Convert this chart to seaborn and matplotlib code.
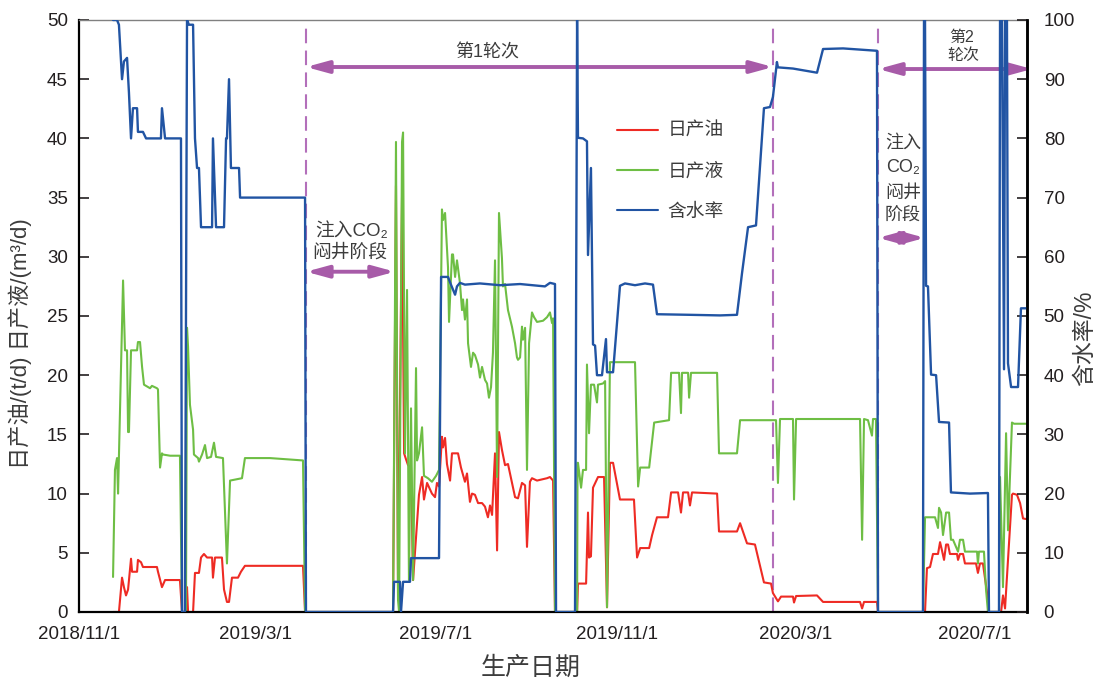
import matplotlib
matplotlib.use("Agg")
import matplotlib.dates as mdates
import matplotlib.pyplot as plt
import numpy as np
import pandas as pd
import seaborn as sns
from matplotlib.lines import Line2D

START = pd.Timestamp("2018-11-01")

# days since 2018-11-01
oil_days = [
    23.1, 27.1, 29.2, 30.5, 31.9, 33.3, 35.3, 36.0, 39.4, 40.0,
    42.1, 43.4, 52.9, 53.6, 56.3, 58.4, 68.5, 69.9, 72.6, 73.3,
    74.0, 77.4, 78.7, 81.4, 82.8, 84.8, 86.9, 90.3, 90.9, 92.3,
    97.0, 98.4, 100.4, 101.8, 103.8, 107.9, 109.9, 112.6, 152.0, 153.4,
    213.1, 215.1, 216.5, 219.2, 220.6, 221.9, 223.3, 225.3, 226.7, 230.7,
    232.8, 234.1, 236.2, 239.5, 241.6, 242.9, 244.3, 246.3, 247.0, 248.4,
    249.7, 251.8, 253.1, 257.2, 259.2, 261.9, 263.3, 265.3, 266.7, 268.7,
    270.8, 273.5, 275.5, 277.5, 278.9, 280.3, 282.3, 283.7, 285.0, 287.0,
    289.1, 291.1, 293.8, 295.9, 297.9, 300.6, 302.7, 304.0, 306.0, 307.4,
    310.8, 317.6, 319.6, 321.7, 323.0,
    338.0, 338.6, 344.1, 345.4, 346.1, 347.4, 348.8, 352.2, 356.3, 358.3,
    360.3, 362.4, 367.1, 376.6, 378.7, 380.8, 386.9, 388.9, 392.2, 399.7,
    401.8, 406.5, 408.5, 409.9, 413.3, 414.6, 416.0, 433.0, 434.3, 446.5,
    448.6, 453.3, 458.7, 464.8, 469.6, 470.9, 474.3, 476.4, 484.5, 485.2,
    486.6, 500.8, 504.9, 530.0, 531.4, 532.7, 541.5, 542.2,
    574.1, 575.4, 577.5, 579.5, 582.9, 584.3, 585.6, 587.0, 588.4, 589.7,
    591.0, 595.8, 596.5, 597.8, 599.9, 601.2, 608.7, 610.0, 611.4, 613.4,
    616.2, 617.5, 625.7, 627.0, 628.4, 633.1, 633.8, 636.5, 638.6, 640.6,
    645.3,
]
oil_vals = [
    0, 0, 2.9, 2.1, 1.4, 1.9, 4.5, 3.4, 3.4, 4.4,
    4.2, 3.8, 3.8, 3.4, 2.1, 2.7, 2.7, 0, 0, 2.1,
    0, 0, 3.3, 3.3, 4.6, 4.9, 4.6, 4.6, 2.9, 4.6,
    4.6, 1.9, 0.85, 0.85, 2.9, 2.9, 3.4, 3.9, 3.9, 0,
    0, 36, 1, 35, 13.4, 12.9, 12.4, 12.2, 2.7, 9.9,
    11.4, 9.5, 10.9, 10.0, 9.7, 10.9, 10.6, 14.8, 13.9, 14.7,
    12.5, 11.1, 13.4, 13.4, 12.2, 11.0, 11.7, 9.3, 10.0, 9.9,
    9.2, 9.2, 8.9, 8.0, 9.0, 8.2, 13.4, 5.2, 15.2, 13.7,
    12.4, 12.5, 10.9, 9.7, 9.6, 10.9, 10.7, 5.5, 11.0, 11.3,
    11.1, 11.3, 11.4, 11.1, 0,
    0, 2.4, 2.4, 8.4, 4.6, 4.7, 10.5, 11.4, 11.4, 0.4,
    12.6, 12.6, 9.5, 9.5, 4.6, 5.4, 5.4, 6.5, 8.0, 8.0,
    10.1, 10.1, 8.4, 10.1, 10.1, 9.0, 10.1, 10.0, 6.8, 6.8,
    7.5, 5.8, 5.7, 2.5, 2.4, 1.6, 0.9, 1.3, 1.3, 0.8,
    1.35, 1.4, 0.85, 0.85, 0.3, 0.85, 0.85, 0,
    0, 3.7, 3.8, 4.9, 4.9, 5.9, 5.2, 4.4, 5.7, 5.7,
    4.9, 4.9, 4.4, 4.9, 4.9, 4.1, 4.1, 3.3, 4.1, 4.1,
    1.6, 0, 0, 1.4, 0.3, 9.9, 10.0, 9.9, 9.2, 7.9,
    7.8,
]

liquid_days = [
    23.1, 24.4, 25.8, 26.5, 29.9, 31.2, 32.6, 33.3, 33.9, 35.3,
    39.4, 40.0, 41.4, 42.8, 44.1, 48.2, 49.5, 52.9, 53.6, 55.0,
    56.3, 57.0, 61.8, 68.5, 69.9, 72.6, 73.3, 74.0, 75.3, 77.4,
    78.0, 80.8, 81.4, 83.5, 85.5, 86.9, 89.6, 91.6, 93.0, 97.7,
    100.4, 102.5, 110.6, 112.6, 129.6, 152.0, 153.4,
    213.1, 215.1, 216.5, 217.2, 219.2, 219.9, 221.2, 222.6, 223.9, 225.3,
    226.7, 228.7, 229.4, 230.7, 232.8, 234.1, 236.8, 239.5, 242.3, 244.3,
    246.3, 247.0, 248.4, 249.7, 250.4, 251.1, 253.1, 253.8, 255.2, 256.5,
    258.5, 259.9, 260.6, 261.9, 263.3, 264.0, 266.0, 267.4, 268.7, 270.8,
    272.1, 273.5, 275.5, 276.9, 278.2, 279.6, 280.9, 282.3, 283.7, 285.0,
    287.0, 287.7, 289.1, 291.1, 293.8, 295.9, 297.2, 297.9, 299.3, 300.6,
    301.3, 302.7, 304.0, 305.4, 307.4, 308.8, 310.8, 314.9, 317.6, 319.6,
    321.0, 321.7, 323.0,
    338.0, 338.3, 338.6, 340.7, 342.0, 344.1, 344.7, 346.1, 347.4, 349.5,
    351.5, 352.2, 355.6, 357.0, 358.3, 360.3, 377.3, 379.4, 380.8, 386.9,
    388.9, 390.3, 400.4, 401.8, 407.2, 408.5, 409.2, 413.3, 414.0, 415.3,
    433.0, 434.3, 446.5, 448.6, 473.0, 474.3, 475.7, 484.5, 485.2, 486.6,
    530.0, 531.4, 532.7, 535.4, 538.1, 538.8, 540.8, 542.2,
    572.7, 574.1, 580.9, 582.9, 583.6, 585.0, 586.3, 588.4, 590.4, 591.7,
    593.1, 596.5, 597.8, 599.9, 601.2, 609.4, 610.0, 610.7, 614.1, 615.5,
    616.8, 624.3, 625.0, 627.0, 629.1, 630.4, 633.1, 634.5, 645.3,
]
liquid_vals = [
    2.96, 12, 13, 10, 28, 22.1, 22.1, 15.2, 15.2, 22.1,
    22.1, 22.8, 22.8, 20.7, 19.2, 18.9, 19.1, 18.9, 18.8, 12.2,
    13.4, 13.3, 13.2, 13.2, 0, 0, 24, 22.4, 17.5, 15.4,
    13.3, 13, 12.7, 13.3, 14.1, 13, 13.1, 14.3, 13.1, 13,
    4.1, 11.1, 11.3, 13, 13, 12.8, 0,
    0, 39.7, 1, 0, 39.7, 40.5, 13.4, 27.2, 2.7, 17.2,
    2.7, 20.6, 12.8, 13.4, 15.6, 11.5, 11.3, 11.0, 11.5, 12.0,
    34.0, 33.1, 33.7, 30.6, 29.1, 24.5, 30.2, 30.2, 28.3, 29.7,
    27.8, 25.5, 26.4, 24.7, 26.4, 22.7, 20.7, 21.9, 21.7, 20.9,
    19.8, 20.7, 19.6, 19.3, 18.1, 19.0, 21.9, 29.7, 11.4, 33.7,
    29.9, 27.5, 27.7, 25.5, 24.1, 22.7, 21.5, 21.3, 21.5, 24.1,
    23.0, 24.0, 12.0, 22.7, 25.3, 24.9, 24.5, 24.6, 24.9, 25.3,
    24.4, 24.8, 0,
    0, 12.6, 12.6, 10.5, 12.0, 12.0, 20.9, 15.1, 19.2, 19.2,
    17.7, 19.2, 19.3, 19.5, 0.4, 21.1, 21.1, 10.6, 12.2, 12.2,
    14.4, 16.0, 16.2, 20.2, 20.2, 16.8, 20.2, 20.2, 18.1, 20.2,
    20.2, 13.4, 13.4, 16.2, 16.2, 10.9, 16.3, 16.3, 9.5, 16.3,
    16.3, 6.1, 16.3, 16.2, 14.9, 16.3, 16.3, 0,
    0, 8.0, 8.0, 7.1, 8.8, 8.4, 6.5, 8.4, 8.4, 6.1,
    6.1, 5.1, 6.1, 6.1, 5.1, 5.1, 4.1, 5.1, 5.1, 1.9,
    0, 0, 11.4, 2.1, 15.1, 6.9, 16.0, 15.9, 15.9,
]

water_days = [
    23.1, 25.8, 27.1, 29.2, 30.5, 32.6, 33.9, 35.3, 36.6, 39.4,
    40.0, 43.4, 45.5, 55.6, 56.3, 58.4, 69.2, 69.9, 71.9, 73.3,
    74.6, 77.4, 78.7, 80.1, 81.4, 82.8, 90.3, 90.9, 93.0, 98.4,
    99.8, 100.4, 101.8, 103.1, 108.6, 109.3, 153.4, 154.0,
    213.1, 213.8, 217.8, 218.5, 219.9, 224.6, 225.3, 244.3, 245.7, 250.4,
    252.4, 255.2, 256.5, 258.5, 261.9, 272.1, 285.7, 299.3, 316.2, 319.6,
    323.0, 323.7,
    336.6, 338.0, 338.6, 342.0, 344.7, 345.4, 347.4, 348.8, 350.2, 351.5,
    354.9, 357.6, 358.3, 362.4, 367.1, 370.5, 377.3, 384.1, 389.5, 392.2,
    414.6, 435.0, 446.5, 449.9, 454.0, 459.4, 464.8, 468.9, 470.9, 473.6,
    474.3, 484.5, 500.8, 504.9, 518.5, 530.0, 541.5, 542.2,
    572.7, 573.4, 574.1, 574.8, 576.1, 578.2, 581.6, 583.6, 590.4, 591.7,
    604.6, 616.8, 617.5, 624.3, 625.0, 626.3, 627.7, 628.4, 629.7, 630.4,
    632.5, 637.2, 639.2, 645.3,
]
water_vals = [
    100, 100, 99.2, 90, 93, 93.6, 87.7, 80, 85.1, 85.1,
    81.1, 81.1, 80, 80, 85.1, 80, 80, 0, 0, 100,
    99.2, 99.2, 80, 75, 75, 65, 65, 80, 65, 65,
    80, 80, 90, 75, 75, 70, 70, 0,
    0, 5.1, 5.1, 0, 5.1, 5.1, 9.1, 9.1, 56.6, 56.6,
    55.3, 53.6, 55.0, 55.6, 55.3, 55.5, 55.2, 55.4, 55.0, 55.6,
    55.4, 0,
    0, 100, 80.1, 80.0, 79.5, 60.3, 75, 45.2, 45, 40,
    40, 46.1, 40.5, 40.5, 55.1, 55.5, 55.2, 55.5, 55.3, 50.3,
    50.2, 50.1, 50.2, 57.2, 65, 65.3, 85.1, 85.3, 87, 92.9,
    92, 91.8, 91.1, 95.1, 95.2, 95, 94.8, 0,
    0, 100, 100, 55.1, 55, 40.1, 40, 32.1, 32, 20.2,
    20, 20.1, 0, 0, 100, 100, 41, 100, 100, 42,
    38, 38, 51.3, 51.3,
]

tick_dates = ["2018-11-01", "2019-03-01", "2019-07-01", "2019-11-01", "2020-03-01", "2020-07-01"]
tick_labels = ["2018/11/1", "2019/3/1", "2019/7/1", "2019/11/1", "2020/3/1", "2020/7/1"]

# stage boundaries (days since start)
stage_days = [154.0, 471.0, 542.2]

RED = "#EE2B24"
GREEN = "#6EBE44"
BLUE = "#2154A3"
PURPLE = "#A75BA8"
DASH = "#B36FBA"
TXT = "#3c3c3c"
TICK = "#231F20"


def to_dates(days):
    return START + pd.to_timedelta(np.asarray(days, dtype=float), unit="D")


def dnum(day):
    return mdates.date2num(START + pd.Timedelta(days=day))


sns.set_theme(style="white")
plt.rcParams["font.family"] = ["Liberation Sans", "Noto Sans CJK SC", "DejaVu Sans"]
plt.rcParams["axes.unicode_minus"] = False

fig = plt.figure(figsize=(11.01, 6.78), dpi=100)
ax = fig.add_axes([79 / 1101, 66 / 678, 948 / 1101, 592 / 678])

oil = pd.DataFrame({"date": to_dates(oil_days), "value": oil_vals})
liquid = pd.DataFrame({"date": to_dates(liquid_days), "value": liquid_vals})
water = pd.DataFrame({"date": to_dates(water_days), "value": water_vals})

sns.lineplot(data=oil, x="date", y="value", ax=ax, color=RED, lw=1.5,
             estimator=None, sort=False, legend=False)
sns.lineplot(data=liquid, x="date", y="value", ax=ax, color=GREEN, lw=1.5,
             estimator=None, sort=False, legend=False)

ax2 = ax.twinx()
sns.lineplot(data=water, x="date", y="value", ax=ax2, color=BLUE, lw=1.7,
             estimator=None, sort=False, legend=False)

ax.set_xlim(START, START + pd.Timedelta(days=643.3))
ax.set_ylim(0, 50)
ax2.set_ylim(0, 100)

ax.set_xticks(pd.to_datetime(tick_dates))
ax.set_xticklabels(tick_labels)
ax.set_yticks(np.arange(0, 51, 5))
ax2.set_yticks(np.arange(0, 101, 10))

ax.tick_params(axis="x", bottom=False, length=0, pad=10, labelsize=13.5, labelcolor=TICK)
ax.tick_params(axis="y", left=True, direction="in", length=7, width=1.2,
               pad=8, labelsize=13.5, labelcolor=TICK, color=TICK)
ax2.tick_params(axis="y", right=True, direction="in", length=7, width=1.2,
                pad=12, labelsize=13.5, labelcolor=TICK, color=TICK)

for a in (ax, ax2):
    a.spines["left"].set_color("black")
    a.spines["left"].set_linewidth(1.6)
    a.spines["bottom"].set_color("black")
    a.spines["bottom"].set_linewidth(1.6)
    a.spines["right"].set_color("black")
    a.spines["right"].set_linewidth(1.8)
    a.spines["top"].set_color("#808080")
    a.spines["top"].set_linewidth(1.0)
ax2.spines["left"].set_visible(False)
ax2.spines["bottom"].set_visible(False)
ax2.spines["top"].set_visible(False)

ax.set_xlabel("生产日期", fontsize=18, color=TXT)
ax.xaxis.set_label_coords(0.476, -0.074)
ax.set_ylabel("日产油/(t/d) 日产液/(m³/d)", fontsize=16, color=TXT)
ax.yaxis.set_label_coords(-0.050, 0.453)
ax2.set_ylabel("含水率/%", fontsize=16.5, color=TXT)
ax2.yaxis.set_label_coords(1.0485, 0.463)

# stage boundaries
for d in stage_days:
    ax.plot([dnum(d), dnum(d)], [0, 49.4], color=DASH, lw=1.5, ls=(0, (7, 3.5)), zorder=1)


def span_arrow(x0, x1, y):
    ax.annotate("", xy=(dnum(x1), y), xytext=(dnum(x0), y),
                arrowprops=dict(arrowstyle="<|-|>,head_length=1.1,head_width=0.3",
                                color=PURPLE, lw=2.8, shrinkA=0, shrinkB=0,
                                mutation_scale=12),
                annotation_clip=False)


span_arrow(154.0, 471.0, 46.03)
span_arrow(154.0, 214.4, 28.74)
span_arrow(542.2, 646.7, 45.86)
span_arrow(542.2, 574.1, 31.6)

ax.text(dnum(276.9), 47.2, "第1轮次", fontsize=13, color=TXT, ha="center", va="center")
ax.text(dnum(185.3), 32.2, "注入CO₂", fontsize=13.5, color=TXT, ha="center", va="center")
ax.text(dnum(183.9), 30.3, "闷井阶段", fontsize=13.5, color=TXT, ha="center", va="center")
ax.text(dnum(599.2), 48.5, "第2", fontsize=11.5, color=TXT, ha="center", va="center")
ax.text(dnum(599.9), 47.0, "轮次", fontsize=11.5, color=TXT, ha="center", va="center")
for yv, s in zip([39.6, 37.5, 35.4, 33.4], ["注入", "CO₂", "闷井", "阶段"]):
    ax.text(dnum(559.2), yv, s, fontsize=13, color=TXT, ha="center", va="center")

handles = [Line2D([], [], color=RED, lw=1.5),
           Line2D([], [], color=GREEN, lw=1.5),
           Line2D([], [], color=BLUE, lw=1.5)]
leg = ax2.legend(handles, ["日产油", "日产液", "含水率"], loc="upper left",
                 bbox_to_anchor=(0.5675, 0.826), frameon=False, fontsize=13.5,
                 handlelength=2.2, handletextpad=0.5, labelspacing=1.22,
                 borderpad=0, borderaxespad=0)
for t in leg.get_texts():
    t.set_color(TXT)

fig.savefig("out.png", dpi=100)
